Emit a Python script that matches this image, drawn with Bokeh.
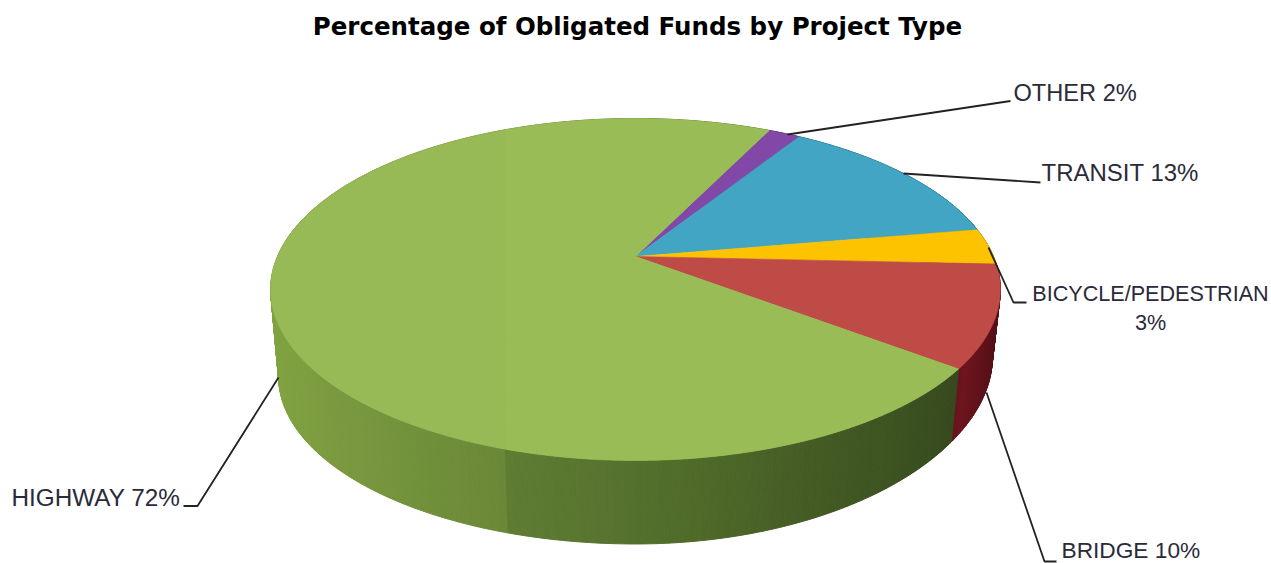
import numpy as np
from bokeh.plotting import figure
from bokeh.models import Range1d
from bokeh.core.properties import value
from bokeh.embed import file_html
from bokeh.resources import INLINE

# ---- data, clockwise from the first slice -------------------------------
categories = ["OTHER", "TRANSIT", "BICYCLE/PEDESTRIAN", "BRIDGE", "HIGHWAY"]
shares = [1.7, 13.4, 3.4, 9.6, 71.9]
title_text = "Percentage of Obligated Funds by Project Type"
label_lines = [["OTHER 2%"], ["TRANSIT 13%"], ["BICYCLE/PEDESTRIAN", "3%"], ["BRIDGE 10%"], ["HIGHWAY 72%"]]

# ---- styles ------------------------------------------------------------
top_colors = ["#8148a8", "#41a5c3", "#fdc300", "#bf4b47", "#97ba56"]
HIGHWAY_LIT = "#99bc57"           # the top is a touch lighter right of the step
STEP_X = 505.0                    # the picture has a shading step at this x
FIRST_ANGLE = 64.0                # degrees, where the first slice starts

# ---- perspective of the disc (page pixels) -----------------------------
CX, CY = 635.0, 256.0
R, S, K = 358.0, 164.6, 0.193     # rim radii and perspective strength
DROP, SHRINK = 88.0, 0.978        # thickness and scale of lower rim
LIFT = 20.0                       # the lower rim rises towards the right
SIDE_STEP = 0.5                   # degrees per side facet


def rim(theta_deg, lower=False):
    t = np.radians(theta_deg)
    u, v = np.cos(t), np.sin(t)
    d = 1 + K * v
    f = SHRINK if lower else 1.0
    x = CX + f * R * u / d
    y = CY - f * S * v / d
    if lower:
        y = y + DROP - LIFT * np.maximum(0.0, u) ** 2
    return x, y


def mix(c1, c2, w):
    a = [int(c1[i:i + 2], 16) for i in (1, 3, 5)]
    b = [int(c2[i:i + 2], 16) for i in (1, 3, 5)]
    return "#%02x%02x%02x" % tuple(int(round(a[i] + (b[i] - a[i]) * w)) for i in range(3))


# green side shade by page x (with the step that the picture shows at x=505)
shade_x = [270, 330, 420, 504, 505, 600, 700, 800, 900, 960]
shade_c = ["#81a340", "#7b9a3f", "#71903b", "#6b8838", "#5f7d31", "#587430", "#4f6a29", "#465d25", "#3c5220", "#36491d"]
red_x = [950, 965, 995]
red_c = ["#5f1219", "#6e141e", "#581018"]


def ramp(x, xs, cs):
    if x <= xs[0]:
        return cs[0]
    if x >= xs[-1]:
        return cs[-1]
    i = int(np.searchsorted(xs, x, side="right")) - 1
    return mix(cs[i], cs[i + 1], (x - xs[i]) / (xs[i + 1] - xs[i]))


p = figure(width=1271, height=563, output_backend="svg", toolbar_location=None,
           x_range=Range1d(0, 1271), y_range=Range1d(563, 0), min_border=0,
           x_axis_type="linear")
p.axis.visible = False
p.grid.visible = False
p.outline_line_color = None
p.background_fill_color = "white"
p.border_fill_color = "white"

# slice boundaries from the shares
spans = np.array(shares) / sum(shares) * 360.0
ends = FIRST_ANGLE - np.cumsum(spans)
starts = np.concatenate([[FIRST_ANGLE], ends[:-1]])

# side wall, back to front
facets = []
for i, (a0, a1) in enumerate(zip(starts, ends)):
    n = max(2, int(abs(a0 - a1) / SIDE_STEP))
    ang = np.linspace(a0, a1, n + 1)
    for b0, b1 in zip(ang[:-1], ang[1:]):
        xt0, yt0 = rim(b0)
        xt1, yt1 = rim(b1)
        xb0, yb0 = rim(b0, True)
        xb1, yb1 = rim(b1, True)
        xm = (xt0 + xt1) / 2
        if categories[i] == "HIGHWAY":
            c = ramp(xm, shade_x, shade_c)
        elif categories[i] == "BRIDGE":
            c = ramp(xm, red_x, red_c)
        else:
            c = mix(top_colors[i], "#000000", 0.5)
        facets.append(((yt0 + yt1) / 2, [xt0, xt1, xb1, xb0], [yt0, yt1, yb1, yb0], c))
facets.sort(key=lambda f: f[0])
p.patches([f[1] for f in facets], [f[2] for f in facets], fill_color=[f[3] for f in facets],
          line_color=[f[3] for f in facets], line_width=1)

# top face
xs, ys = [], []
for a0, a1 in zip(starts, ends):
    ang = np.linspace(a0, a1, max(3, int(abs(a0 - a1) * 2)))
    x, y = rim(ang)
    xs.append([CX] + list(x))
    ys.append([CY] + list(y))
p.patches(xs, ys, fill_color=top_colors, line_color=top_colors, line_width=0.6)

# lighter part of the highway slice, right of the shading step
ang = np.linspace(starts[-1], ends[-1], 1200)
x, y = rim(ang)
keep = x >= STEP_X
p.patch([CX] + list(x[keep]), [CY] + list(y[keep]), fill_color=HIGHWAY_LIT, line_color=None)

# leader lines (page pixels)
leaders = [
    ([787, 1010], [134, 100.5]),
    ([903, 1040], [173, 182]),
    ([988, 1013, 1026], [247, 302, 302]),
    ([986, 1044, 1056], [392, 561, 561]),
    ([278, 197, 183], [377, 505.5, 505.5]),
]
for lx, ly in leaders:
    p.line(lx, ly, line_color="#222222", line_width=1.8)

# labels
LABEL_FONT = value("Liberation Sans")
INK = "#2a2a3a"
p.text([1013], [92], text=[label_lines[0][0]], text_font=LABEL_FONT, text_font_size="23.6px",
       text_color=INK, text_baseline="middle", text_align="left")
p.text([1041], [172], text=[label_lines[1][0]], text_font=LABEL_FONT, text_font_size="24px",
       text_color=INK, text_baseline="middle", text_align="left")
p.text([1150, 1150], [293, 322], text=label_lines[2], text_font=LABEL_FONT, text_font_size="21.6px",
       text_color=INK, text_baseline="middle", text_align="center")
p.text([1061], [549], text=[label_lines[3][0]], text_font=LABEL_FONT, text_font_size="22.7px",
       text_color=INK, text_baseline="middle", text_align="left")
p.text([11], [497], text=[label_lines[4][0]], text_font=LABEL_FONT, text_font_size="24.3px",
       text_color=INK, text_baseline="middle", text_align="left")

p.text([637], [26], text=[title_text], text_font=value("DejaVu Sans"), text_font_style="bold",
       text_font_size="24.5px", text_color="#000000", text_baseline="middle", text_align="center")

open("out.html", "w").write(file_html(p, INLINE))
